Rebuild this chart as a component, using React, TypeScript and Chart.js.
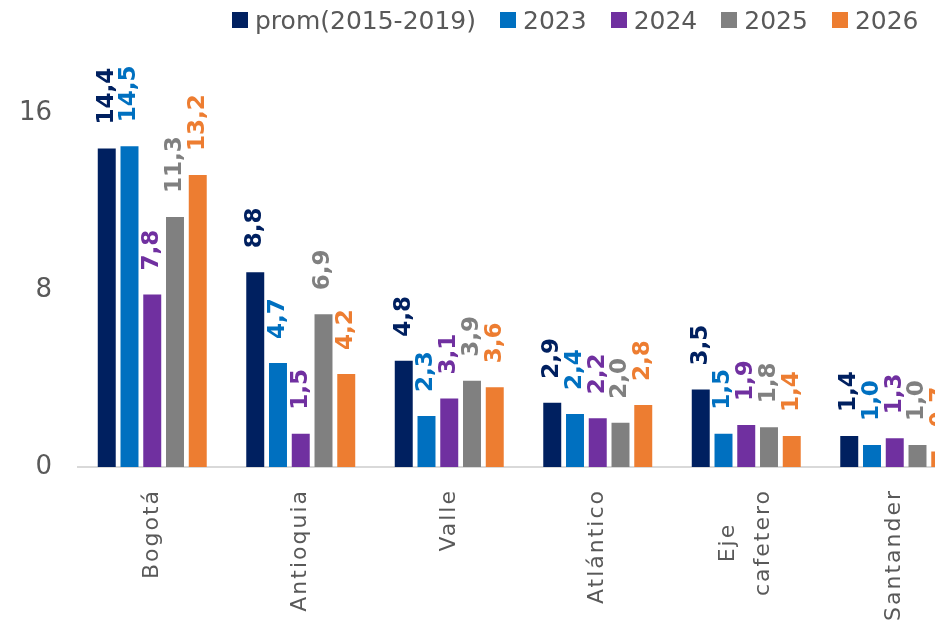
import React, { useEffect, useRef } from "react";
import { Chart, registerables } from "chart.js";
Chart.register(...registerables);

const categories: string[][] = [["Bogotá"], ["Antioquia"], ["Valle"], ["Atlántico"], ["Eje", "cafetero"], ["Santander"]];
const seriesNames = ["prom(2015-2019)", "2023", "2024", "2025", "2026"];
const prom = [14.4, 8.8, 4.8, 2.9, 3.5, 1.4];
const y2023 = [14.5, 4.7, 2.3, 2.4, 1.5, 1.0];
const y2024 = [7.8, 1.5, 3.1, 2.2, 1.9, 1.3];
const y2025 = [11.3, 6.9, 3.9, 2.0, 1.8, 1.0];
const y2026 = [13.2, 4.2, 3.6, 2.8, 1.4, 0.7];
const yTicks = [0, 8, 16];
const colors = ["#002060", "#0070C0", "#7030A0", "#808080", "#ED7D31"];

const FONT = "'DejaVu Sans', sans-serif";

const barLabels = {
  id: "barLabels",
  afterDatasetsDraw(chart: any) {
    const ctx = chart.ctx;
    chart.data.datasets.forEach((ds: any, di: number) => {
      const meta = chart.getDatasetMeta(di);
      meta.data.forEach((bar: any, i: number) => {
        const v = ds.data[i] as number;
        const txt = v.toFixed(1).replace(".", ",");
        ctx.save();
        ctx.translate(bar.x, bar.y - 24);
        ctx.rotate(-Math.PI / 2);
        ctx.font = `bold 23px ${FONT}`;
        ctx.fillStyle = colors[di];
        ctx.textAlign = "left";
        ctx.textBaseline = "middle";
        ctx.fillText(txt, 0, 0);
        ctx.restore();
      });
    });
  },
};

const catLabels = {
  id: "catLabels",
  afterDraw(chart: any) {
    const ctx = chart.ctx;
    const xs = chart.scales.x;
    const top = chart.chartArea.bottom + 22;
    const lh = 35;
    ctx.save();
    ctx.font = `22px ${FONT}`;
    (ctx as any).letterSpacing = "2px";
    ctx.fillStyle = "#595959";
    ctx.textBaseline = "middle";
    categories.forEach((lines, i) => {
      const x = xs.getPixelForTick(i);
      const widths = lines.map((l) => ctx.measureText(l).width);
      const maxW = Math.max(...widths);
      const n = lines.length;
      lines.forEach((l, j) => {
        ctx.save();
        ctx.translate(x + (j - (n - 1) / 2) * lh, top);
        ctx.rotate(-Math.PI / 2);
        if (n === 1) {
          ctx.textAlign = "right";
          ctx.fillText(l, 0, 0);
        } else {
          ctx.textAlign = "center";
          ctx.fillText(l, -maxW / 2, 0);
        }
        ctx.restore();
      });
    });
    ctx.restore();
  },
};

export default function App() {
  const ref = useRef<HTMLCanvasElement | null>(null);
  useEffect(() => {
    if (!ref.current) return;
    const series = [prom, y2023, y2024, y2025, y2026];
    const chart = new Chart(ref.current, {
      type: "bar",
      data: {
        labels: categories.map((c) => c.join(" ")),
        datasets: series.map((d, i) => ({
          label: seriesNames[i],
          data: d,
          backgroundColor: colors[i],
          borderWidth: 0,
          categoryPercentage: 0.766,
          barPercentage: 0.79,
        })),
      },
      options: {
        responsive: false,
        animation: false,
        layout: { padding: { top: 24.5, right: 6, left: 0, bottom: 0 } },
        plugins: { legend: { display: false }, tooltip: { enabled: false } },
        scales: {
          x: {
            offset: true,
            grid: { display: false, drawTicks: false },
            border: { display: true, color: "#d9d9d9", width: 2 },
            ticks: { display: false },
            afterFit: (s: any) => {
              s.height = 162;
              s.paddingLeft = 0;
              s.paddingRight = 0;
            },
          },
          y: {
            min: 0,
            max: 20,
            grid: { display: false, drawTicks: false },
            border: { display: false },
            afterBuildTicks: (s: any) => {
              s.ticks = yTicks.map((v) => ({ value: v }));
            },
            afterFit: (s: any) => {
              s.width = 78;
              s.paddingTop = 0;
              s.paddingBottom = 0;
            },
            ticks: { padding: 26, color: "#595959", font: { family: FONT, size: 26 } },
          },
        },
      },
      plugins: [barLabels, catLabels],
    });
    return () => chart.destroy();
  }, []);

  return (
    <div
      style={{
        position: "fixed",
        left: 0,
        top: 0,
        width: 935,
        height: 629,
        overflow: "hidden",
        background: "#fff",
      }}
    >
      <canvas ref={ref} width={975} height={629} style={{ display: "block" }} />
      <div
        style={{
          position: "absolute",
          left: 232,
          top: 0,
          height: 40,
          display: "flex",
          alignItems: "center",
          fontFamily: FONT,
          fontSize: 25,
          color: "#595959",
          whiteSpace: "nowrap",
        }}
      >
        {seriesNames.map((n, i) => (
          <div key={n} style={{ display: "flex", alignItems: "center", marginRight: 24 }}>
            <span style={{ width: 16, height: 16, background: colors[i], marginRight: 7, display: "inline-block" }} />
            <span>{n}</span>
          </div>
        ))}
      </div>
    </div>
  );
}
